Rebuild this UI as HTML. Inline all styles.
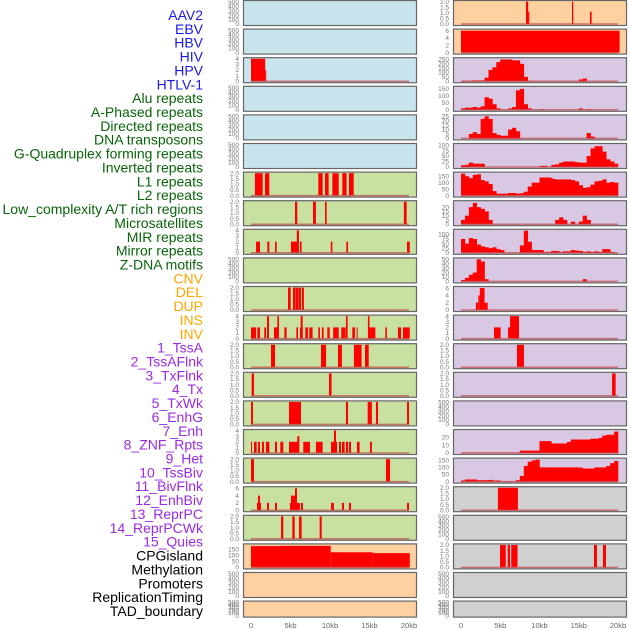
<!DOCTYPE html>
<html><head><meta charset="utf-8">
<style>
html,body{margin:0;padding:0;background:#fff;}
svg{display:block;font-family:"Liberation Sans",sans-serif;}
</style></head>
<body>
<svg id="c" width="630" height="630" viewBox="0 0 630 630" xmlns="http://www.w3.org/2000/svg"></svg>
<script>
// ---- labels ----
const trackNames = ["AAV2","EBV","HBV","HIV","HPV","HTLV-1","Alu repeats","A-Phased repeats","Directed repeats","DNA transposons","G-Quadruplex forming repeats","Inverted repeats","L1 repeats","L2 repeats","Low_complexity A/T rich regions","Microsatellites","MIR repeats","Mirror repeats","Z-DNA motifs","CNV","DEL","DUP","INS","INV","1_TssA","2_TssAFlnk","3_TxFlnk","4_Tx","5_TxWk","6_EnhG","7_Enh","8_ZNF_Rpts","9_Het","10_TssBiv","11_BivFlnk","12_EnhBiv","13_ReprPC","14_ReprPCWk","15_Quies","CPGisland","Methylation","Promoters","ReplicationTiming","TAD_boundary"];
const trackGroups = ["v","v","v","v","v","v","r","r","r","r","r","r","r","r","r","r","r","r","r","s","s","s","s","s","h","h","h","h","h","h","h","h","h","h","h","h","h","h","h","o","o","o","o","o"];
const xTickLabels = ["0","5kb","10kb","15kb","20kb"];
const xTickValues = [0,5,10,15,20];
// ---- tick sets ----
const ticksEmpty = [0,100,200,300,400,500];
const ticks2 = [0,0.5,1,1.5,2];
const ticks4 = [0,1,2,3,4];
const ticks6 = [0,2,4,6];
// ---- segment data [startKb,endKb,value] ----
const hbvSegs = [[0,1.8,4],[1.8,1.9,2]];
const aluSegs = [[0.5,1.48,2],[1.77,2.32,2],[8.52,9.07,2],[9.37,9.83,2],[10.3,11.1,2],[11.56,12.1,2],[12.4,13.0,2]];
const aphasedSegs = [[5.57,5.86,2],[7.85,8.22,2],[9.37,9.58,2],[19.35,19.7,2]];
const directedSegs = [[0.64,1.14,2],[2.07,2.32,2],[3.04,3.25,2],[5.06,5.86,2],[5.8,6.07,4],[6.2,6.4,2],[10.1,10.3,2],[12.07,12.28,2],[19.75,20.1,2]];
const gquadSegs = [[4.68,5.02,2],[5.32,5.61,2],[5.65,5.99,2],[6.03,6.33,2],[6.45,6.7,2]];
const invertedSegs = [[0,0.64,2],[0.8,1.14,2],[1.68,1.9,2],[2.03,2.28,4],[2.91,3.37,2],[3.33,3.54,4],[4.22,4.51,2],[5.74,5.95,2],[6.2,6.54,2],[6.29,6.54,4],[6.88,7.22,2],[7.38,7.8,2],[8.52,8.73,2],[8.98,9.2,2],[9.66,9.96,2],[10.4,11.1,2],[11.43,11.98,2],[12.02,12.23,4],[12.82,13.16,2],[13.37,13.5,2],[14.8,15.0,4],[14.9,15.74,2],[17.0,17.2,2],[18.6,18.99,2],[19.24,20.1,2]];
const l1Segs = [[2.53,3.04,2],[8.86,9.5,2],[11.01,11.51,2],[13.03,14.0,2],[14.43,14.9,2]];
const l2Segs = [[0.08,0.38,2],[9.87,10.2,2]];
const lowcSegs = [[0,0.25,2],[4.81,6.33,2],[12.02,12.28,2],[14.77,15.3,2],[15.82,16.08,2],[19.75,20.0,2]];
const microSegs = [[0,0.13,2],[0.38,0.72,2],[0.89,1.14,2],[1.39,1.65,2],[1.9,2.32,2],[3.04,3.29,2],[3.71,4.09,2],[4.81,6.03,2],[5.86,6.12,3],[6.62,7.47,2],[8.22,9.07,2],[10.13,10.89,2],[10.5,10.76,4],[11.14,11.39,2],[11.51,11.85,2],[12.02,12.28,2],[12.4,12.66,2],[13.41,13.75,2],[15.06,15.3,2]];
const mirSegs = [[0,0.38,2],[17.09,17.6,2]];
const mirrorSegs = [[0.76,1.27,2],[0.89,1.14,4],[2.03,2.28,2],[3.04,3.29,2],[4.93,6.2,2],[5.06,5.57,4],[5.57,5.82,6],[6.33,6.58,2],[10.13,10.5,2],[11.51,11.77,2],[12.4,12.66,2],[19.75,20.0,2]];
const zdnaSegs = [[3.8,4.09,2],[5.23,5.53,2],[6.08,6.41,2],[8.69,8.95,2]];
const cnvSegs = [[0,3.67,176],[3.67,10.09,178],[10.09,15.4,125],[15.4,20.1,118]];
const insSegs = [[8.28,8.55,2],[8.55,8.7,1.1],[14.14,14.3,2],[16.43,16.64,1.1]];
const invSegs = [[0,20.2,6]];
const hetSegs = [[1.9,2.2,2],[2.2,2.4,4],[2.4,3.0,6],[3.0,3.4,2]];
const tssbivSegs = [[4.2,5.05,2],[5.99,6.24,2],[6.24,7.39,4]];
const bivflnkSegs = [[7.13,8.02,2]];
const enhbivSegs = [[19.24,19.7,2]];
const cpgSegs = [[4.7,7.25,2]];
const promoterSegs = [[4.97,5.7,2],[5.95,6.24,2],[6.4,7.2,2],[16.94,17.32,2],[18.08,18.47,2]];
// ---- binned data (0.5kb bins, 0..20kb) ----
const tssaBins = [5,5,5,10,10,10,40,130,160,220,250,250,250,240,240,200,50,5,0,0,0,0,0,0,0,0,0,0,0,0,20,30,0,0,0,0,0,0,0,0];
const tssaflnkBins = [10,15,15,20,15,25,90,80,40,10,2,0,10,20,140,150,40,10,0,0,5,0,0,0,0,0,0,0,0,0,10,0,5,0,0,0,0,0,0,0];
const txflnkBins = [0,0,5,7,5,22,25,22,6,4,3,3,10,12,8,0,0,0,0,0,0,0,0,0,0,0,0,0,0,0,0,0,6,2,0,0,0,0,0,0];
const txBins = [8,10,20,15,15,15,0,0,0,0,0,0,0,0,0,0,0,0,0,0,5,5,0,10,12,20,25,25,25,22,20,20,50,85,95,95,70,35,25,15];
const txwkBins = [170,150,135,160,165,120,110,90,35,15,15,15,20,20,15,18,30,70,100,100,140,140,140,130,125,125,125,125,120,110,80,60,65,85,110,115,125,100,105,100];
const enhgBins = [5,10,20,25,20,18,15,5,0,0,0,0,0,0,0,0,0,0,0,0,0,0,0,0,5,8,5,0,3,0,3,10,5,0,0,0,0,0,0,0];
const enhBins = [75,50,80,75,45,35,30,25,30,20,15,0,0,0,0,40,120,60,15,15,15,5,5,10,10,5,8,8,15,12,10,5,8,5,8,5,20,20,5,0];
const znfBins = [3,8,15,20,50,45,5,0,0,0,0,0,0,0,0,0,0,0,0,0,0,0,0,0,0,0,0,0,0,0,0,5,0,0,0,0,0,0,0,0];
const reprpcwkBins = [0.5,0.5,0.5,0.5,0.5,0.5,0.5,0.5,0.5,0.5,0.5,0.5,0.5,0.5,0.5,3,3,3,3,3,15,15,15,12,12,12,12,14,17,17,17,17,17,18,18,19,22,23,23,27];
const quiesBins = [8,15,15,15,10,10,10,12,8,8,2,2,2,2,10,40,110,140,150,155,100,100,100,100,100,100,100,100,100,100,98,92,92,92,100,100,100,110,130,145];

const groupColor = {v:"#1a1ae6",r:"#0a640a",s:"#ffa500",h:"#9a2be2",o:"#000000"};
const groupFace = {v:"#c8e4ec",r:"#c8e0a0",s:"#ffd0a0",h:"#d8c8e4",o:"#d0d0d0"};
// panel specs: data reference, kind, ymax, ticks (per column, top to bottom)
const panelSpecs = [
 [null,"e",520,ticksEmpty],[null,"e",520,ticksEmpty],[hbvSegs,"s",4.1,ticks4],[null,"e",520,ticksEmpty],[null,"e",520,ticksEmpty],[null,"e",520,ticksEmpty],
 [aluSegs,"s",2.05,ticks2],[aphasedSegs,"s",2.05,ticks2],[directedSegs,"s",4.1,ticks4],[null,"e",520,ticksEmpty],[gquadSegs,"s",2.05,ticks2],[invertedSegs,"s",4.1,ticks4],
 [l1Segs,"s",2.05,ticks2],[l2Segs,"s",2.05,ticks2],[lowcSegs,"s",2.05,ticks2],[microSegs,"s",4.1,ticks4],[mirSegs,"s",2.05,ticks2],[mirrorSegs,"s",6.3,ticks6],[zdnaSegs,"s",2.05,ticks2],
 [cnvSegs,"s",190,[0,50,100,150]],[null,"e",520,ticksEmpty],[null,"e",520,ticksEmpty],
 [insSegs,"s",2.05,ticks2],[invSegs,"s",6.3,ticks6],[tssaBins,"b",265,[0,50,100,150,200,250]],[tssaflnkBins,"b",165,[0,50,100,150]],[txflnkBins,"b",26,[0,5,10,15,20,25]],[txBins,"b",105,[0,25,50,75,100]],
 [txwkBins,"b",178,[0,50,100,150]],[enhgBins,"b",27,[0,5,10,15,20]],[enhBins,"b",125,[0,25,50,75,100]],[znfBins,"b",52,[0,10,20,30,40,50]],[hetSegs,"s",6.3,ticks6],[tssbivSegs,"s",4.1,ticks4],
 [bivflnkSegs,"s",2.05,ticks2],[enhbivSegs,"s",2.05,ticks2],[null,"e",520,ticksEmpty],[reprpcwkBins,"b",29,[0,10,20]],[quiesBins,"b",162,[0,50,100,150]],
 [cpgSegs,"s",2.05,ticks2],[null,"e",520,ticksEmpty],[promoterSegs,"s",2.05,ticks2],[null,"e",520,ticksEmpty],[null,"e",520,ticksEmpty]
];

const NS="http://www.w3.org/2000/svg";
const svg=document.getElementById("c");
function mk(tag,attrs,parent){const e=document.createElementNS(NS,tag);for(const k in attrs)e.setAttribute(k,attrs[k]);(parent||svg).appendChild(e);return e;}

// track labels
trackNames.forEach((n,i)=>{
  const t=mk("text",{x:203,y:20+i*13.86,"text-anchor":"end","font-size":"14",fill:groupColor[trackGroups[i]]});
  t.textContent=n;
  
  
});

const cols=[{x0:243,x1:416,z:251,ppk:7.9,tickX:239},{x0:453,x1:626,z:461,ppk:7.85,tickX:449}];
function fmt(v,ticks){return ticks.some(t=>t%1!==0)?v.toFixed(1):String(v);}
panelSpecs.forEach((p,idx)=>{
  const col=cols[idx<22?0:1];
  const row=idx%22;
  const top=row*28.6;
  const h=row===21?16:25;
  const bot=top+h;
  const g=mk("g",{});
  
  
  const face=groupFace[trackGroups[idx]];
  const r=mk("rect",{x:col.x0+0.5,y:top+0.5,width:col.x1-col.x0,height:h,fill:face,stroke:"#666",  "stroke-width":"1.2"},g);
  
  
  const ymax=p[2];
  const xs=kb=>col.z+kb*col.ppk;
  const ys=v=>(bot-1)-v/ymax*(h-2);
  // ticks
  p[3].forEach(tv=>{
    const t=mk("text",{x:col.tickX,y:ys(tv)+2.2,"text-anchor":"end","font-size":"6.5",fill:"#777"},g);
    t.textContent=fmt(tv,p[3]);
    
    
  });
  if(p[1]==="e") return;
  const data=p[0];
  if(p[1]==="s"){
    data.forEach(s=>{
      const b=mk("rect",{x:xs(s[0]),y:ys(s[2]),width:Math.max(1,xs(s[1])-xs(s[0])),height:ys(0)-ys(s[2]),fill:"#ff0000"},g);
      
      
    });
  } else {
    data.forEach((v,k)=>{
      if(v<=0) return;
      const b=mk("rect",{x:xs(k*0.5),y:ys(v),width:xs(0.5)-xs(0)+0.3,height:ys(0)-ys(v),fill:"#ff0000"},g);
      
      
    });
  }
  const bl=mk("line",{x1:xs(0),x2:xs(20),y1:ys(0),y2:ys(0),stroke:"#c04848","stroke-width":"1.5","stroke-opacity":"0.7"},g);
  
  
});
// x axes
cols.forEach(col=>{
  xTickValues.forEach((v,i)=>{
    const t=mk("text",{x:col.z+v*col.ppk,y:628,"text-anchor":"middle","font-size":"7.5",fill:"#666"});
    t.textContent=xTickLabels[i];
    
    
  });
});
</script>
</body></html>
